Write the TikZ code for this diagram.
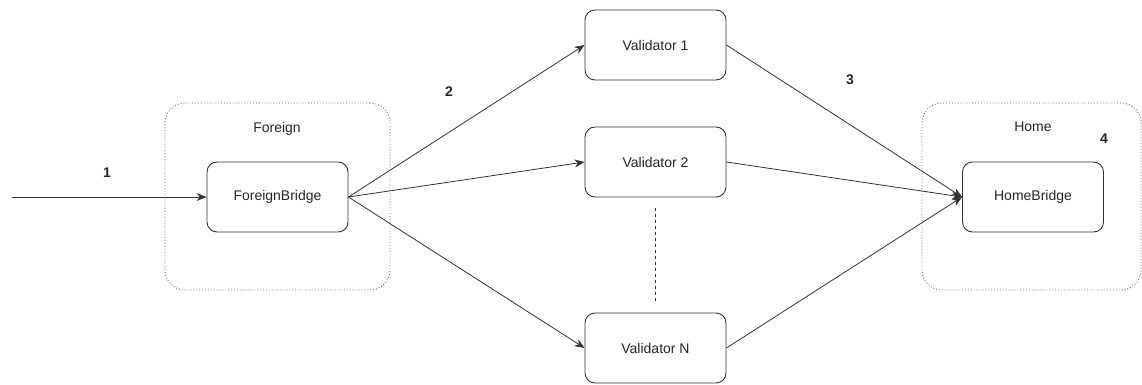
\documentclass[tikz,border=0pt]{standalone}
\usepackage{fontspec}
\setmainfont{Liberation Sans}
\usetikzlibrary{arrows.meta}
\begin{document}
\begin{tikzpicture}[x=1pt,y=-1pt,
  box/.style={draw=black!80, line width=0.9pt, rounded corners=10pt,
    minimum width=141pt, minimum height=70pt, font=\fontsize{14}{16}\selectfont, text=black!85},
  group/.style={draw=black!60, dotted, line width=0.9pt, rounded corners=20pt},
  grouplabel/.style={font=\fontsize{14}{16}\selectfont, text=black!85},
  num/.style={font=\bfseries\fontsize{14}{16}\selectfont, text=black!85},
  link/.style={draw=black!80, line width=0.8pt, -{Stealth[length=10pt,width=8pt]}}]
\useasboundingbox (0,0) rectangle (1142,385);
% dotted containers
\node[group, minimum width=225pt, minimum height=187pt] (foreigngrp) at (277.5,196.5) {};
\node[group, minimum width=219pt, minimum height=187pt] (homegrp) at (1031.5,196.5) {};
\node[grouplabel] (foreignlbl) at (277,129) {Foreign};
\node[grouplabel] (homelbl) at (1033,127) {Home};
% bridges and validators
\node[box] (fb) at (277.5,197) {ForeignBridge};
\node[box] (hb) at (1033,197) {HomeBridge};
\node[box] (v1) at (655.5,45) {Validator 1};
\node[box] (v2) at (655.5,162) {Validator 2};
\node[box] (vn) at (655.5,348) {Validator N};
% step numbers
\node[num] (n1) at (107,173) {1};
\node[num] (n2) at (449,92) {2};
\node[num] (n3) at (850,80) {3};
\node[num] (n4) at (1104,139) {4};
% connectors
\coordinate (src) at (12,197);
\draw[link] (src) -- (fb.west);
\draw[link] (fb.east) -- (v1.west);
\draw[link] (fb.east) -- (v2.west);
\draw[link] (fb.east) -- (vn.west);
\draw[link] (v1.east) -- (hb.west);
\draw[link] (v2.east) -- (hb.west);
\draw[link] (vn.east) -- (hb.west);
\draw[black!80, line width=0.8pt, dashed] (v2.south) ++(0,11) coordinate (dtop) -- (vn.north |- 0,302) coordinate (dbot);
\end{tikzpicture}
\end{document}
